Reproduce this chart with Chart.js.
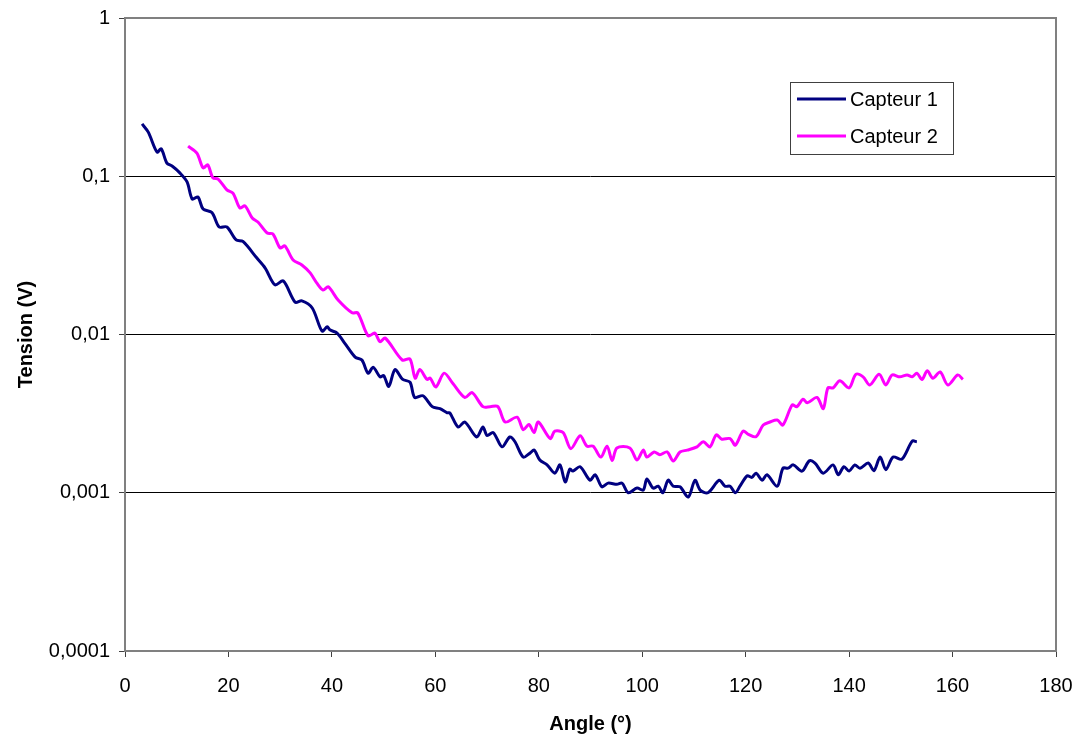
<!DOCTYPE html>
<html lang="fr">
<head>
  <meta charset="UTF-8">
  <title>Tension vs angle</title>
  <script src="https://cdn.jsdelivr.net/npm/chart.js"></script>
  <style>
    body {
      margin: 0;
      background: #fff;
    }
    canvas {
      display: block;
    }
  </style>
</head>
<body>
  <canvas id="angleChart" width="1074" height="736"></canvas>

  <script>
    // Capteur 1
    const angle1 = [3.3, 4.5, 6.2, 7, 8.1, 9.1, 10.6, 12, 13, 14.1, 15.1, 16.8, 18.2, 19.7, 21.5, 22.8, 25.5, 27.1, 29, 30.6,
      32.9, 34.2, 36.2, 38.1, 39.1, 39.6, 41, 42.5, 44.5, 45.8, 47, 48, 49.3, 50, 51, 52.2, 53.7, 55.1, 56, 57.6,
      59.4, 60.9, 62.3, 62.8, 64.4, 65.7, 68, 69.2, 70, 71.2, 72.9, 74.4, 75.4, 77, 78.3, 79.1, 80.2, 81.6, 83.1, 84.1,
      85.1, 86, 86.6, 88, 89.9, 90.9, 92.2, 93.4, 95.1, 96.1, 97.3, 99, 100.2, 100.9, 102.1, 103.1, 104, 105, 106, 107.3,
      108.9, 110.2, 111.2, 112.7, 114.9, 116, 117, 118, 118.9, 120.3, 121.2, 122, 123.2, 124.1, 126.1, 127.2, 128.2, 129.2, 130.9, 132.3,
      133.4, 135, 136.9, 137.9, 139, 140, 141.1, 142.1, 143.7, 144.8, 146, 147.1, 148.5, 150.2, 152.2, 153.1];
    const tension1 = [0.214, 0.19, 0.142, 0.149, 0.121, 0.116, 0.105, 0.092, 0.0718, 0.074, 0.062, 0.059, 0.0478, 0.0478, 0.0396, 0.0387, 0.0304, 0.0263, 0.0206, 0.0218,
      0.016, 0.0163, 0.0147, 0.0105, 0.0112, 0.0107, 0.0102, 0.0088, 0.0072, 0.0069, 0.0057, 0.0062, 0.0054, 0.0055, 0.0047, 0.006, 0.0052, 0.005, 0.004, 0.0041,
      0.0035, 0.0034, 0.0032, 0.0032, 0.0026, 0.0028, 0.00225, 0.0026, 0.0023, 0.0024, 0.00195, 0.00225, 0.0021, 0.00168, 0.00178, 0.00186, 0.00161, 0.0015, 0.00133, 0.0015,
      0.00117, 0.00141, 0.00137, 0.00146, 0.0012, 0.0013, 0.00109, 0.00115, 0.00113, 0.00115, 0.001, 0.00107, 0.00104, 0.00122, 0.00107, 0.0011, 0.001, 0.0012, 0.0011, 0.00109,
      0.00094, 0.0012, 0.00104, 0.001, 0.0012, 0.0011, 0.0011, 0.001, 0.0011, 0.00128, 0.00125, 0.00133, 0.0012, 0.0013, 0.0011, 0.00143, 0.00143, 0.0015, 0.00137, 0.00159,
      0.00154, 0.00133, 0.0015, 0.0013, 0.00146, 0.00137, 0.0015, 0.00143, 0.00154, 0.00138, 0.00168, 0.0014, 0.00168, 0.00163, 0.00212, 0.0021];

    // Capteur 2
    const angle2 = [12.2, 13.9, 15.1, 16, 17, 18, 19.7, 20.9, 22.2, 23.2, 24.6, 25.7, 27.5, 28.6, 30, 30.9, 32.5, 34.2, 35.8, 37.1,
      38.3, 39.3, 41.2, 43.9, 45, 47, 48.3, 49.3, 50.3, 53.6, 55.1, 56.1, 57, 58.4, 59, 60.1, 61.7, 63.4, 65.7, 67.1,
      69.2, 70.6, 72.1, 73.5, 75.8, 77, 78.1, 79.1, 79.9, 82.2, 83.1, 84.7, 86.2, 88, 89.3, 90.5, 92, 93.2, 94.2, 95.1,
      97.6, 99, 100.2, 100.9, 102.3, 103.4, 104.8, 106, 107.3, 108.7, 110.6, 111.8, 113.1, 114.3, 115.4, 117, 118, 119.5, 120.5, 122,
      123.4, 124.7, 126.1, 127.2, 129, 129.9, 131.1, 131.9, 133.8, 135, 135.9, 136.9, 138.2, 140, 141.3, 142.7, 144, 145.8, 147.1, 148.3,
      149.8, 151.2, 152.2, 153.1, 154.1, 155.1, 156.2, 157.6, 159.1, 161, 162];
    const tension2 = [0.155, 0.14, 0.113, 0.118, 0.0975, 0.096, 0.082, 0.078, 0.063, 0.065, 0.0545, 0.0514, 0.0438, 0.0432, 0.0352, 0.0363, 0.0296, 0.0275, 0.0245, 0.0211,
      0.0191, 0.02, 0.0165, 0.0137, 0.0137, 0.0098, 0.0102, 0.009, 0.0095, 0.0069, 0.007, 0.0053, 0.006, 0.0052, 0.0053, 0.00466, 0.0057, 0.0049, 0.004, 0.0043,
      0.0035, 0.0035, 0.0035, 0.0028, 0.003, 0.0025, 0.0027, 0.0024, 0.0028, 0.0022, 0.00245, 0.0024, 0.0019, 0.00229, 0.00197, 0.00197, 0.00168, 0.00197, 0.0016, 0.00192,
      0.00192, 0.00161, 0.00186, 0.00168, 0.00181, 0.00174, 0.00181, 0.00159, 0.00181, 0.00186, 0.00195, 0.0021, 0.00195, 0.00232, 0.00218, 0.0022, 0.002, 0.00245, 0.00234, 0.00226,
      0.00268, 0.0028, 0.00288, 0.00268, 0.00359, 0.0035, 0.0039, 0.0037, 0.004, 0.0034, 0.0046, 0.0046, 0.0051, 0.0046, 0.0056, 0.0054, 0.0048, 0.0056, 0.0048, 0.00555,
      0.0054, 0.00555, 0.0054, 0.0057, 0.0052, 0.0059, 0.0053, 0.0058, 0.0048, 0.00555, 0.0052];

    const seriesNames = ['Capteur 1', 'Capteur 2'];
    const yTicks = [0.0001, 0.001, 0.01, 0.1, 1];
    const xTitle = 'Angle (°)';
    const yTitle = 'Tension (V)';

    const toPoints = (xs, ys) => xs.map((a, i) => ({ x: a, y: ys[i] }));

    Chart.defaults.font.family = 'Arial, "Liberation Sans", sans-serif';
    Chart.defaults.font.size = 20;
    Chart.defaults.color = '#000';

    // gray frame around the plot area
    const frame = {
      id: 'frame',
      beforeDatasetsDraw(chart) {
        const { ctx, chartArea: a } = chart;
        ctx.save();
        ctx.strokeStyle = '#808080';
        ctx.lineWidth = 2;
        ctx.strokeRect(a.left, a.top, a.right - a.left, a.bottom - a.top);
        ctx.restore();
      }
    };

    // boxed legend inside the plot
    const boxLegend = {
      id: 'boxLegend',
      afterDraw(chart) {
        const ctx = chart.ctx;
        const x = 790, y = 82, w = 163, h = 72;
        ctx.save();
        ctx.fillStyle = '#fff';
        ctx.fillRect(x, y, w, h);
        ctx.strokeStyle = '#404040';
        ctx.lineWidth = 1;
        ctx.strokeRect(x + 0.5, y + 0.5, w, h);
        ctx.font = '20px Arial, "Liberation Sans", sans-serif';
        ctx.textBaseline = 'middle';
        chart.data.datasets.forEach((ds, i) => {
          const ly = y + 17 + i * 37;
          ctx.strokeStyle = ds.borderColor;
          ctx.lineWidth = 3;
          ctx.beginPath();
          ctx.moveTo(x + 7, ly);
          ctx.lineTo(x + 56, ly);
          ctx.stroke();
          ctx.fillStyle = '#000';
          ctx.fillText(ds.label, x + 60, ly + 1);
        });
        ctx.restore();
      }
    };

    new Chart(document.getElementById('angleChart'), {
      type: 'line',
      data: {
        datasets: [{
          label: seriesNames[0],
          data: toPoints(angle1, tension1),
          borderColor: '#000080',
          borderWidth: 3,
          pointRadius: 0,
          tension: 0.3
        }, {
          label: seriesNames[1],
          data: toPoints(angle2, tension2),
          borderColor: '#FF00FF',
          borderWidth: 3,
          pointRadius: 0,
          tension: 0.3
        }]
      },
      options: {
        responsive: false,
        animation: false,
        layout: { padding: { top: 18, right: 18, left: 0, bottom: 0 } },
        plugins: {
          legend: { display: false },
          tooltip: { enabled: false }
        },
        scales: {
          x: {
            type: 'linear',
            min: 0,
            max: 180,
            afterFit: s => { s.height = 85; s.paddingRight = 0; s.paddingLeft = 0; },
            border: { display: false },
            grid: { drawOnChartArea: false, tickLength: 6, tickColor: '#404040' },
            ticks: { stepSize: 20, padding: 17, maxRotation: 0 },
            title: { display: true, text: xTitle, font: { weight: 'bold', size: 20 }, padding: { top: 0, bottom: 0 } }
          },
          y: {
            type: 'logarithmic',
            min: 0.0001,
            max: 1,
            afterFit: s => { s.width = 125; s.paddingTop = 0; s.paddingBottom = 0; },
            afterBuildTicks: s => { s.ticks = yTicks.map(v => ({ value: v })); },
            border: { display: false },
            grid: {
              color: c => (c.tick && (c.tick.value === 1 || c.tick.value === 0.0001)) ? 'rgba(0,0,0,0)' : '#000',
              tickLength: 6,
              tickColor: '#404040'
            },
            ticks: {
              padding: 9,
              callback: v => String(v).replace('.', ',')
            },
            title: { display: true, text: yTitle, font: { weight: 'bold', size: 20 }, padding: { top: 14, bottom: 0 } }
          }
        }
      },
      plugins: [frame, boxLegend]
    });
  </script>
</body>
</html>
